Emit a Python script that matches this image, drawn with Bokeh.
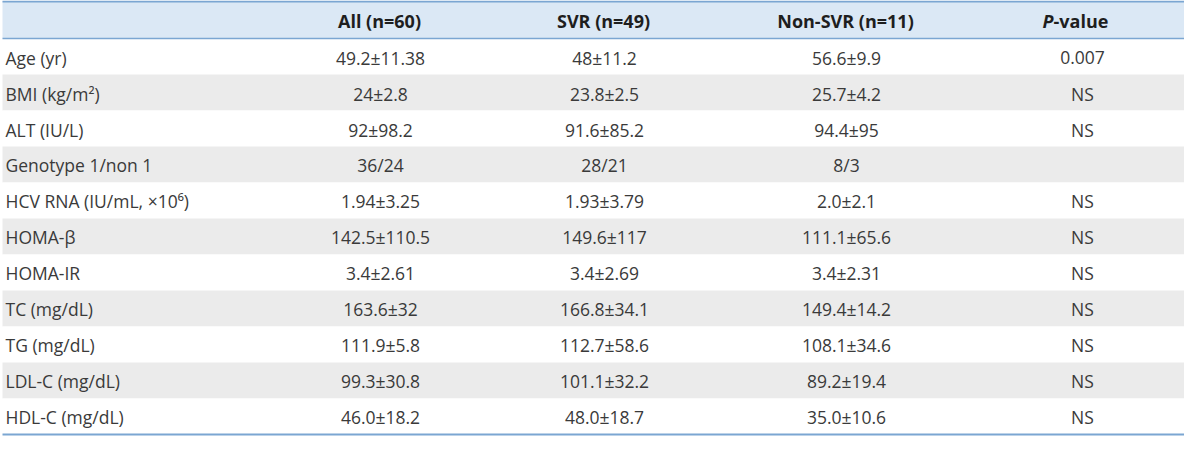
from bokeh.plotting import figure
from bokeh.models import Range1d, ColumnDataSource
from bokeh.core.properties import value
from bokeh.embed import file_html
from bokeh.resources import INLINE

# ---- data ----
variables = ["Age (yr)", "BMI (kg/m²)", "ALT (IU/L)", "Genotype 1/non 1",
             "HCV RNA (IU/mL, ×10⁶)", "HOMA-β", "HOMA-IR", "TC (mg/dL)",
             "TG (mg/dL)", "LDL-C (mg/dL)", "HDL-C (mg/dL)"]
all_vals = ["49.2±11.38", "24±2.8", "92±98.2", "36/24", "1.94±3.25", "142.5±110.5",
            "3.4±2.61", "163.6±32", "111.9±5.8", "99.3±30.8", "46.0±18.2"]
svr_vals = ["48±11.2", "23.8±2.5", "91.6±85.2", "28/21", "1.93±3.79", "149.6±117",
            "3.4±2.69", "166.8±34.1", "112.7±58.6", "101.1±32.2", "48.0±18.7"]
nonsvr_vals = ["56.6±9.9", "25.7±4.2", "94.4±95", "8/3", "2.0±2.1", "111.1±65.6",
               "3.4±2.31", "149.4±14.2", "108.1±34.6", "89.2±19.4", "35.0±10.6"]
p_vals = ["0.007", "NS", "NS", "", "NS", "NS", "NS", "NS", "NS", "NS", "NS"]
headers = ["All (n=60)", "SVR (n=49)", "Non-SVR (n=11)"]

# ---- layout ----
TOP, HEAD_BOTTOM, ROW_H = 4.0, 42.0, 36.9
LEFT, RIGHT = 4.0, 1196.0
LABEL_X = 7.0
DATA_X = [382, 606, 848, 1084]
HEAD_X = [381, 605, 847]
P_SPLIT = 1055
FONT = "Open Sans"
TXT = "#3a3a3a"
HEAD_TXT = "#1e1e1e"
LINE = "#7ba6d2"
BODY_SIZE = "17.5px"
HEAD_SIZE = "18px"

n = len(variables)
bottom_y = HEAD_BOTTOM + n * ROW_H

p = figure(width=1184, height=437, output_backend="svg", toolbar_location=None,
           x_range=Range1d(2, 1186), y_range=Range1d(451, 3), min_border=0)
p.axis.visible = False
p.grid.visible = False
p.outline_line_color = None
p.background_fill_color = "white"

# header band
p.quad(left=[LEFT], right=[RIGHT], top=[TOP], bottom=[HEAD_BOTTOM],
       fill_color="#dbe8f5", line_color=None)

# row bands
tops = [HEAD_BOTTOM + i * ROW_H for i in range(n)]
rows = ColumnDataSource(dict(
    top=tops, bottom=[t + ROW_H for t in tops],
    fill=["#ffffff" if i % 2 == 0 else "#ebebeb" for i in range(n)],
))
p.quad(left=LEFT, right=RIGHT, top="top", bottom="bottom", fill_color="fill",
       line_color=None, source=rows)

# rules
p.segment(x0=[LEFT], x1=[RIGHT], y0=[TOP], y1=[TOP], line_color=LINE, line_width=2)
p.segment(x0=[LEFT], x1=[RIGHT], y0=[HEAD_BOTTOM], y1=[HEAD_BOTTOM], line_color=LINE, line_width=1.5)
p.segment(x0=[LEFT], x1=[RIGHT], y0=[bottom_y], y1=[bottom_y], line_color=LINE, line_width=2)

# header text
hy = (TOP + HEAD_BOTTOM) / 2 + 1
p.text(x=HEAD_X, y=[hy] * 3, text=headers, text_font=value(FONT),
       text_font_size=HEAD_SIZE, text_font_style="bold", text_color=HEAD_TXT,
       text_align="center", text_baseline="middle")
p.text(x=[P_SPLIT], y=[hy], text=["P"], text_font=value(FONT), text_font_size=HEAD_SIZE,
       text_font_style="bold italic", text_color=HEAD_TXT,
       text_align="right", text_baseline="middle")
p.text(x=[P_SPLIT], y=[hy], text=["-value"], text_font=value(FONT), text_font_size=HEAD_SIZE,
       text_font_style="bold", text_color=HEAD_TXT,
       text_align="left", text_baseline="middle")

# body text
mids = [t + ROW_H / 2 + 1 for t in tops]
p.text(x=[LABEL_X] * n, y=mids, text=variables, text_font=value(FONT),
       text_font_size=BODY_SIZE, text_color=TXT, text_align="left", text_baseline="middle")
for cx, col in zip(DATA_X, [all_vals, svr_vals, nonsvr_vals, p_vals]):
    p.text(x=[cx] * n, y=mids, text=col, text_font=value(FONT),
           text_font_size=BODY_SIZE, text_color=TXT, text_align="center",
           text_baseline="middle")

open("out.html", "w").write(file_html(p, INLINE))
